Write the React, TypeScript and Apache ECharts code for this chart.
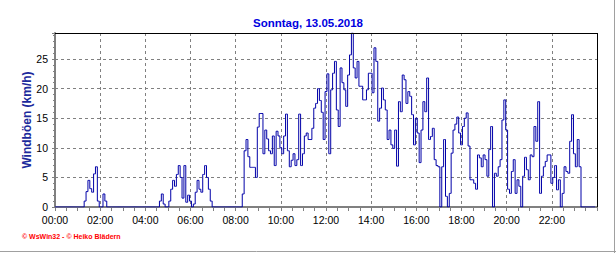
import { useEffect, useRef } from "react";
import * as echarts from "echarts";

const chartTitle = "Sonntag, 13.05.2018";
const yAxisName = "Windböen (km/h)";
const creditText = "© WsWin32 - © Heiko Blädern";
const stepMinutes = 5;
const yTickValues = [0, 5, 10, 15, 20, 25];
const xTickLabels = ["00:00", "02:00", "04:00", "06:00", "08:00", "10:00", "12:00", "14:00", "16:00", "18:00", "20:00", "22:00"];

// wind gusts (km/h), one value per 5 minutes, one row per hour
const gusts: number[] = [
  0, 0, 0, 0, 0, 0, 0, 0, 0, 0, 0, 0,
  0, 0, 0, 0, 1, 2.6, 4.5, 3.1, 2.5, 5.6, 6.8, 1,
  0, 0, 2.2, 1, 0, 0, 0, 0, 0, 0, 0, 0,
  0, 0, 0, 0, 0, 0, 0, 0, 0, 0, 0, 0,
  0, 0, 0, 0, 0, 0, 0, 0, 1, 2.2, 0.5, 0,
  0, 1, 3, 4.5, 3.5, 5.5, 7, 5, 1.5, 7, 0.8, 2,
  1, 0, 0.5, 2.5, 4.5, 3, 2.5, 5.5, 7, 5, 3, 1,
  0, 0, 0, 0, 0, 0, 0, 0, 0, 0, 0, 0,
  0, 0, 0, 0, 2.2, 9.5, 11.4, 8.5, 6.7, 6.7, 6.7, 5,
  13.5, 15.8, 15.8, 9, 13, 11.5, 9.5, 9, 12, 7, 12.8, 12,
  10, 9, 12, 15.7, 9.5, 6.8, 7.9, 9, 7, 8, 15.7, 7,
  9, 12, 12.5, 11.4, 11.4, 13.3, 16.7, 17.5, 20, 18, 16, 11.4,
  19.5, 22.5, 9, 19.8, 22.6, 24.6, 16.4, 13.6, 23.5, 21, 19.8, 17,
  22.3, 25.7, 29.4, 23.5, 21.8, 24.6, 20.4, 20.4, 18.1, 18.1, 19.8, 22.6,
  22.6, 19.3, 26.9, 24.6, 14.5, 16.7, 20.1, 18.1, 16.4, 11.4, 13, 10.5,
  9.9, 13, 6.9, 17.8, 16.1, 22.3, 21.5, 17.5, 19.5, 18.7, 15.6, 10.5,
  15, 12.5, 7.5, 13, 17.8, 16.1, 21.8, 11.4, 11.9, 13.3, 8, 7,
  6.8, 0, 6.8, 11.4, 1.8, 0, 2.3, 9.1, 13, 14, 15.2, 12.5,
  10.5, 13.6, 15, 15.9, 10.3, 4.6, 4.6, 4, 3, 8.8, 8.3, 6.8,
  8.8, 8, 5.2, 9.7, 13.6, 0, 5.7, 5.2, 6.8, 8, 14.7, 18.1,
  13, 3, 2.3, 6, 8, 2.3, 4.6, 3.5, 0, 5.2, 8.4, 6.3,
  4.6, 8.8, 8.5, 13.6, 11.1, 17.8, 2.3, 5.2, 6.8, 7.7, 8.8, 8.8,
  4, 5, 7, 2.9, 4.6, 0, 2.3, 6.8, 6, 5.7, 11.1, 15.6,
  9, 6.8, 11.4, 6.8, 0, 0, 0, 0, 0, 0, 0, 0,
];

const FONT = "'Liberation Sans', Arial, sans-serif";

export default function App() {
  const ref = useRef<HTMLDivElement>(null);
  useEffect(() => {
    document.body.style.margin = "0";
    const chart = echarts.init(ref.current!, null, { renderer: "svg" });
    const data = gusts.map((v, i) => [i * stepMinutes, v]);
    const gl = 55, gt = 33, gw = 542, gh = 174;
    chart.setOption({
      animation: false,
      backgroundColor: "#ffffff",
      title: {
        text: chartTitle,
        left: "center",
        top: 12,
        textStyle: { color: "#0000e0", fontSize: 11.5, fontWeight: "bold", fontFamily: FONT },
      },
      grid: { left: gl, top: gt, width: gw, height: gh, show: false },
      xAxis: {
        type: "value",
        min: 0,
        max: 1440,
        interval: 120,
        axisLine: { show: true, onZero: false, lineStyle: { color: "#808080", width: 2 } },
        axisTick: { show: true, length: 4, lineStyle: { color: "#808080" } },
        minorTick: { show: true, splitNumber: 4, length: 4, lineStyle: { color: "#808080" } },
        splitLine: { show: true, lineStyle: { color: "#808080", type: [3, 3] } },
        axisLabel: {
          color: "#000",
          fontSize: 10.5,
          fontFamily: FONT,
          margin: 7,
          formatter: (v: number) => xTickLabels[Math.round(v / 120)] ?? "",
        },
      },
      yAxis: {
        type: "value",
        min: 0,
        max: 29.4,
        interval: 5,
        name: yAxisName,
        nameLocation: "middle",
        nameRotate: 90,
        nameGap: 28,
        nameMoveOverlap: false,
        nameTextStyle: { color: "#1c2a9c", fontSize: 12, fontWeight: "bold", fontFamily: FONT, verticalAlign: "middle" },
        axisLine: { show: true, lineStyle: { color: "#808080", width: 2 } },
        axisTick: { show: true, length: 3, lineStyle: { color: "#808080" } },
        minorTick: { show: true, splitNumber: 5, length: 2, lineStyle: { color: "#808080" } },
        splitLine: { show: true, lineStyle: { color: "#808080", type: [3, 3] } },
        axisLabel: {
          color: "#000",
          fontSize: 10.5,
          fontFamily: FONT,
          margin: 7,
          formatter: (v: number) => (yTickValues.includes(v) ? String(v) : ""),
        },
      },
      series: [
        {
          type: "line",
          data,
          step: "middle",
          symbol: "none",
          lineStyle: { color: "#0000a8", width: 1 },
          z: 3,
        },
      ],
      graphic: [
        { type: "line", z: 50, shape: { x1: gl, y1: gt + 0.5, x2: gl + gw, y2: gt + 0.5 }, style: { stroke: "#000", lineWidth: 1 } },
        { type: "line", z: 50, shape: { x1: gl + gw + 0.5, y1: gt, x2: gl + gw + 0.5, y2: gt + gh }, style: { stroke: "#000", lineWidth: 1 } },
        { type: "line", z: 50, shape: { x1: 614.5, y1: 0, x2: 614.5, y2: 253 }, style: { stroke: "#a0a0a0", lineWidth: 1 } },
        { type: "line", z: 50, shape: { x1: 0, y1: 251.5, x2: 616, y2: 251.5 }, style: { stroke: "#a0a0a0", lineWidth: 1 } },
        {
          type: "text",
          left: 22,
          top: 233,
          style: { text: creditText, fill: "#ff0000", font: `bold 7px ${FONT}` },
        },
      ],
    });
    return () => chart.dispose();
  }, []);
  return <div ref={ref} style={{ width: 616, height: 253 }} />;
}
